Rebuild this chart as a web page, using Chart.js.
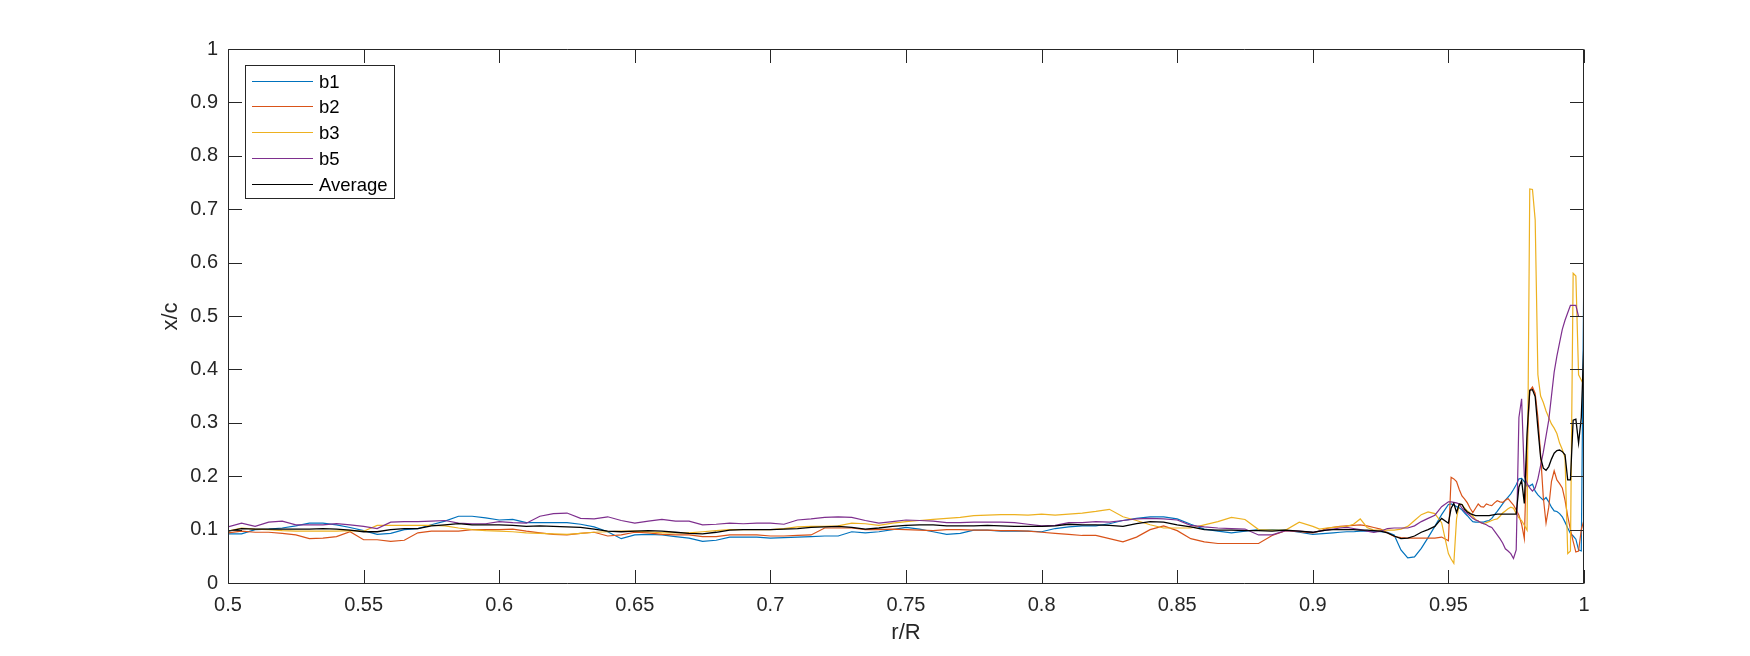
<!DOCTYPE html>
<html>
<head>
<meta charset="utf-8">
<script src="https://cdn.jsdelivr.net/npm/chart.js@4.4.1/dist/chart.umd.min.js"></script>
<style>
  html, body { margin: 0; padding: 0; background: #fff; overflow: hidden; }
</style>
</head>
<body>
<canvas id="chart" width="1750" height="656"></canvas>
<script>
// r/R positions (coarse on the flat part, finer towards the tip)
const rR = [
    0.5, 0.505, 0.51, 0.515, 0.52, 0.525, 0.53, 0.535, 0.54, 0.545,
    0.55, 0.555, 0.56, 0.565, 0.57, 0.575, 0.58, 0.585, 0.59, 0.595,
    0.6, 0.605, 0.61, 0.615, 0.62, 0.625, 0.63, 0.635, 0.64, 0.645,
    0.65, 0.655, 0.66, 0.665, 0.67, 0.675, 0.68, 0.685, 0.69, 0.695,
    0.7, 0.705, 0.71, 0.715, 0.72, 0.725, 0.73, 0.735, 0.74, 0.745,
    0.75, 0.755, 0.76, 0.765, 0.77, 0.775, 0.78, 0.785, 0.79, 0.795,
    0.8, 0.805, 0.81, 0.815, 0.82, 0.825, 0.83, 0.835, 0.84, 0.845,
    0.85, 0.855, 0.86, 0.865, 0.87, 0.875, 0.88, 0.885, 0.89, 0.895,
    0.9,
    0.9025, 0.905, 0.9075, 0.91, 0.9125, 0.915, 0.9175, 0.92, 0.9225, 0.925,
    0.9275, 0.93, 0.9325, 0.935, 0.9375, 0.94, 0.9425, 0.945, 0.9475, 0.95,
    0.951, 0.952, 0.953, 0.954, 0.955, 0.956, 0.957, 0.958, 0.959, 0.96,
    0.961, 0.962, 0.963, 0.964, 0.965, 0.966, 0.967, 0.968, 0.969, 0.97,
    0.971, 0.972, 0.973, 0.974, 0.975, 0.976, 0.977, 0.978, 0.979, 0.98,
    0.981, 0.982, 0.983, 0.984, 0.985, 0.986, 0.987, 0.988, 0.989, 0.99,
    0.991, 0.992, 0.993, 0.994, 0.995, 0.996, 0.997, 0.998, 0.999, 1.0
];

const b1 = [
    0.092, 0.092, 0.100, 0.101, 0.103, 0.107, 0.112, 0.112, 0.109, 0.104,
    0.098, 0.091, 0.093, 0.100, 0.102, 0.109, 0.116, 0.125, 0.125, 0.122,
    0.118, 0.119, 0.113, 0.113, 0.113, 0.113, 0.110, 0.105, 0.096, 0.083,
    0.090, 0.091, 0.090, 0.087, 0.084, 0.078, 0.080, 0.086, 0.086, 0.086,
    0.084, 0.085, 0.086, 0.087, 0.088, 0.088, 0.096, 0.094, 0.096, 0.100,
    0.104, 0.101, 0.096, 0.091, 0.093, 0.099, 0.099, 0.097, 0.097, 0.097,
    0.096, 0.102, 0.105, 0.107, 0.107, 0.111, 0.117, 0.121, 0.124, 0.124,
    0.120, 0.110, 0.101, 0.097, 0.094, 0.097, 0.100, 0.100, 0.099, 0.095,
    0.091,
    0.092, 0.093, 0.094, 0.095, 0.096, 0.096, 0.097, 0.097, 0.097, 0.096,
    0.095, 0.090, 0.062, 0.047, 0.049, 0.065, 0.085, 0.106, 0.128, 0.147,
    0.148, 0.146, 0.143, 0.141, 0.137, 0.131, 0.126, 0.120, 0.115, 0.114,
    0.114, 0.114, 0.114, 0.116, 0.117, 0.121, 0.128, 0.134, 0.141, 0.148,
    0.155, 0.161, 0.167, 0.175, 0.184, 0.195, 0.196, 0.190, 0.181, 0.182,
    0.185, 0.172, 0.165, 0.160, 0.155, 0.160, 0.152, 0.142, 0.135, 0.134,
    0.130, 0.124, 0.114, 0.103, 0.093, 0.088, 0.082, 0.062, 0.060, 0.617
];

const b2 = [
    0.094, 0.097, 0.095, 0.095, 0.093, 0.090, 0.083, 0.084, 0.087, 0.096,
    0.081, 0.081, 0.078, 0.080, 0.094, 0.097, 0.097, 0.097, 0.100, 0.100,
    0.100, 0.101, 0.097, 0.094, 0.091, 0.090, 0.093, 0.095, 0.088, 0.090,
    0.095, 0.094, 0.091, 0.090, 0.090, 0.087, 0.087, 0.090, 0.090, 0.090,
    0.088, 0.088, 0.089, 0.090, 0.103, 0.103, 0.103, 0.100, 0.100, 0.101,
    0.100, 0.099, 0.098, 0.100, 0.100, 0.099, 0.099, 0.098, 0.098, 0.097,
    0.095, 0.093, 0.091, 0.089, 0.089, 0.083, 0.077, 0.086, 0.100, 0.107,
    0.098, 0.083, 0.077, 0.074, 0.074, 0.074, 0.074, 0.089, 0.098, 0.096,
    0.094,
    0.097, 0.102, 0.104, 0.106, 0.107, 0.108, 0.109, 0.107, 0.104, 0.101,
    0.094, 0.087, 0.085, 0.084, 0.084, 0.084, 0.084, 0.084, 0.086, 0.079,
    0.198, 0.195, 0.190, 0.175, 0.163, 0.157, 0.150, 0.140, 0.132, 0.140,
    0.148, 0.143, 0.142, 0.148, 0.146, 0.145, 0.150, 0.154, 0.152, 0.151,
    0.155, 0.158, 0.152, 0.146, 0.137, 0.127, 0.110, 0.083, 0.260, 0.360,
    0.367, 0.355, 0.310, 0.240, 0.160, 0.112, 0.142, 0.190, 0.210, 0.193,
    0.186, 0.178, 0.155, 0.125, 0.100, 0.078, 0.058, 0.060, 0.100, 0.118
];

const b3 = [
    0.097, 0.103, 0.101, 0.100, 0.098, 0.097, 0.097, 0.097, 0.097, 0.098,
    0.097, 0.108, 0.108, 0.108, 0.108, 0.108, 0.107, 0.103, 0.100, 0.098,
    0.097, 0.096, 0.094, 0.093, 0.092, 0.091, 0.093, 0.095, 0.096, 0.097,
    0.097, 0.096, 0.094, 0.094, 0.094, 0.096, 0.098, 0.100, 0.100, 0.100,
    0.100, 0.102, 0.105, 0.106, 0.106, 0.107, 0.112, 0.111, 0.108, 0.112,
    0.115, 0.117, 0.119, 0.121, 0.123, 0.126, 0.127, 0.128, 0.128, 0.127,
    0.129, 0.127, 0.129, 0.131, 0.134, 0.138, 0.124, 0.117, 0.109, 0.103,
    0.103, 0.103, 0.109, 0.115, 0.123, 0.119, 0.100, 0.099, 0.099, 0.114,
    0.106,
    0.101, 0.103, 0.104, 0.105, 0.106, 0.110, 0.120, 0.104, 0.099, 0.099,
    0.099, 0.099, 0.101, 0.106, 0.117, 0.128, 0.133, 0.130, 0.113, 0.055,
    0.045, 0.037, 0.120, 0.148, 0.147, 0.140, 0.135, 0.131, 0.125, 0.119,
    0.116, 0.113, 0.111, 0.113, 0.115, 0.117, 0.119, 0.120, 0.125, 0.131,
    0.135, 0.139, 0.142, 0.140, 0.130, 0.122, 0.117, 0.108, 0.099, 0.738,
    0.737, 0.680, 0.390, 0.350, 0.338, 0.322, 0.310, 0.298, 0.290, 0.280,
    0.262, 0.250, 0.235, 0.055, 0.060, 0.580, 0.575, 0.390, 0.380, 0.370
];

const b5 = [
    0.105, 0.112, 0.106, 0.114, 0.116, 0.109, 0.109, 0.109, 0.111, 0.109,
    0.106, 0.102, 0.114, 0.115, 0.115, 0.116, 0.117, 0.112, 0.111, 0.111,
    0.115, 0.113, 0.112, 0.125, 0.130, 0.131, 0.121, 0.120, 0.124, 0.117,
    0.112, 0.116, 0.119, 0.116, 0.116, 0.109, 0.110, 0.112, 0.111, 0.112,
    0.112, 0.110, 0.118, 0.120, 0.123, 0.124, 0.123, 0.117, 0.112, 0.115,
    0.118, 0.117, 0.116, 0.113, 0.113, 0.114, 0.114, 0.114, 0.113, 0.110,
    0.107, 0.108, 0.113, 0.113, 0.115, 0.114, 0.117, 0.120, 0.121, 0.120,
    0.118, 0.108, 0.105, 0.103, 0.102, 0.101, 0.090, 0.090, 0.098, 0.097,
    0.095,
    0.097, 0.099, 0.101, 0.103, 0.104, 0.102, 0.100, 0.097, 0.095, 0.097,
    0.102, 0.103, 0.103, 0.103, 0.107, 0.115, 0.121, 0.127, 0.143, 0.152,
    0.152, 0.151, 0.150, 0.148, 0.140, 0.134, 0.130, 0.126, 0.121, 0.118,
    0.116, 0.113, 0.111, 0.109, 0.106, 0.104, 0.097, 0.090, 0.083, 0.075,
    0.064, 0.060, 0.055, 0.046, 0.062, 0.310, 0.345, 0.200, 0.186, 0.178,
    0.172, 0.178, 0.195, 0.220, 0.245, 0.275, 0.305, 0.350, 0.395, 0.425,
    0.450, 0.475, 0.492, 0.506, 0.520, 0.520, 0.520, 0.499, null, null
];

const average = [
    0.097, 0.102, 0.101, 0.101, 0.101, 0.101, 0.101, 0.102, 0.101, 0.099,
    0.096, 0.096, 0.100, 0.102, 0.102, 0.107, 0.109, 0.111, 0.109, 0.109,
    0.109, 0.108, 0.106, 0.107, 0.106, 0.105, 0.104, 0.101, 0.097, 0.096,
    0.097, 0.098, 0.097, 0.095, 0.093, 0.092, 0.095, 0.099, 0.100, 0.100,
    0.100, 0.101, 0.102, 0.104, 0.105, 0.106, 0.104, 0.101, 0.103, 0.106,
    0.108, 0.109, 0.109, 0.107, 0.107, 0.107, 0.108, 0.107, 0.106, 0.106,
    0.106, 0.107, 0.110, 0.109, 0.109, 0.108, 0.106, 0.111, 0.115, 0.114,
    0.109, 0.105, 0.100, 0.099, 0.099, 0.098, 0.098, 0.097, 0.099, 0.097,
    0.095,
    0.097, 0.099, 0.100, 0.100, 0.100, 0.100, 0.099, 0.099, 0.098, 0.097,
    0.094, 0.088, 0.083, 0.084, 0.088, 0.095, 0.100, 0.106, 0.121, 0.112,
    0.140, 0.149, 0.132, 0.148, 0.147, 0.138, 0.133, 0.130, 0.128, 0.126,
    0.126, 0.126, 0.126, 0.126, 0.126, 0.127, 0.128, 0.129, 0.129, 0.129,
    0.129, 0.129, 0.129, 0.129, 0.129, 0.180, 0.192, 0.149, 0.280, 0.361,
    0.362, 0.349, 0.290, 0.235, 0.215, 0.211, 0.218, 0.232, 0.243, 0.248,
    0.249, 0.246, 0.240, 0.193, 0.193, 0.305, 0.307, 0.262, 0.310, 0.455
];

const seriesNames = ['b1', 'b2', 'b3', 'b5', 'Average'];
const seriesColors = ['#0072BD', '#D95319', '#EDB120', '#7E2F8E', '#000000'];

const xTicks = [0.5, 0.55, 0.6, 0.65, 0.7, 0.75, 0.8, 0.85, 0.9, 0.95, 1];
const xTickLabels = ['0.5', '0.55', '0.6', '0.65', '0.7', '0.75', '0.8', '0.85', '0.9', '0.95', '1'];
const yTicks = [0, 0.1, 0.2, 0.3, 0.4, 0.5, 0.6, 0.7, 0.8, 0.9, 1];
const yTickLabels = ['0', '0.1', '0.2', '0.3', '0.4', '0.5', '0.6', '0.7', '0.8', '0.9', '1'];

const axisColor = '#262626';
const fontFamily = '"Liberation Sans", Arial, Helvetica, sans-serif';
const tickLen = 13.5;

// MATLAB-like box, inward ticks, axis titles and legend
const matlabAxes = {
    id: 'matlabAxes',
    afterDraw(chart) {
        const ctx = chart.ctx;
        const area = chart.chartArea;
        const xs = chart.scales.x;
        const ys = chart.scales.y;
        const L = Math.round(area.left) + 0.5;
        const R = Math.round(area.right) - 0.5;
        const T = Math.round(area.top) + 0.5;
        const B = Math.round(area.bottom) + 0.5;

        ctx.save();
        ctx.strokeStyle = axisColor;
        ctx.lineWidth = 1;
        ctx.beginPath();
        ctx.rect(L, T, R - L, B - T);
        xTicks.forEach(v => {
            const px = Math.round(xs.getPixelForValue(v)) + 0.5;
            ctx.moveTo(px, B); ctx.lineTo(px, B - tickLen);
            ctx.moveTo(px, T); ctx.lineTo(px, T + tickLen);
        });
        yTicks.forEach(v => {
            const py = Math.round(ys.getPixelForValue(v)) + 0.5;
            ctx.moveTo(L, py); ctx.lineTo(L + tickLen, py);
            ctx.moveTo(R, py); ctx.lineTo(R - tickLen, py);
        });
        ctx.stroke();

        // axis titles
        ctx.fillStyle = axisColor;
        ctx.font = '22px ' + fontFamily;
        ctx.textAlign = 'center';
        ctx.textBaseline = 'middle';
        ctx.fillText('r/R', (L + R) / 2, 633);
        ctx.save();
        ctx.translate(171, (T + B) / 2);
        ctx.rotate(-Math.PI / 2);
        ctx.fillText('x/c', 0, 0);
        ctx.restore();

        // legend box
        const lx = 245.5, ly = 65.5, lw = 149, lh = 133;
        ctx.fillStyle = '#ffffff';
        ctx.fillRect(lx, ly, lw, lh);
        ctx.strokeStyle = axisColor;
        ctx.strokeRect(lx, ly, lw, lh);
        ctx.font = '18.5px ' + fontFamily;
        ctx.textAlign = 'left';
        seriesNames.forEach((name, i) => {
            const y = Math.round(80.7 + i * 25.7) + 0.5;
            ctx.strokeStyle = seriesColors[i];
            ctx.lineWidth = 1.2;
            ctx.beginPath();
            ctx.moveTo(252, y);
            ctx.lineTo(313, y);
            ctx.stroke();
            ctx.fillStyle = '#000000';
            ctx.fillText(name, 319, y + 1);
        });
        ctx.restore();
    }
};

const allSeries = [b1, b2, b3, b5, average];
const datasets = allSeries.map((vals, i) => ({
    label: seriesNames[i],
    data: rR.map((r, j) => ({ x: r, y: vals[j] })),
    borderColor: seriesColors[i],
    borderWidth: i === 4 ? 1.3 : 1.2,
    pointRadius: 0,
    fill: false,
    tension: 0,
    spanGaps: false,
    order: 5 - i
}));

const ctx = document.getElementById('chart').getContext('2d');
const chart = new Chart(ctx, {
    type: 'line',
    data: { datasets: datasets },
    plugins: [matlabAxes],
    options: {
        responsive: false,
        animation: false,
        devicePixelRatio: 1,
        layout: { padding: { left: 0, right: 166, top: 49, bottom: 0 } },
        plugins: {
            legend: { display: false },
            tooltip: { enabled: false }
        },
        scales: {
            x: {
                type: 'linear',
                min: 0.5,
                max: 1,
                afterFit: s => { s.height = 73; },
                afterBuildTicks: s => { s.ticks = xTicks.map(v => ({ value: v })); },
                grid: { display: false, drawTicks: false },
                border: { display: false },
                ticks: {
                    padding: 10,
                    color: axisColor,
                    font: { family: fontFamily, size: 20 },
                    maxRotation: 0,
                    autoSkip: false,
                    callback: (v, i) => xTickLabels[i]
                }
            },
            y: {
                type: 'linear',
                min: 0,
                max: 1,
                afterFit: s => { s.width = 228; },
                afterBuildTicks: s => { s.ticks = yTicks.map(v => ({ value: v })); },
                grid: { display: false, drawTicks: false },
                border: { display: false },
                ticks: {
                    padding: 10,
                    color: axisColor,
                    font: { family: fontFamily, size: 20 },
                    autoSkip: false,
                    callback: (v, i) => yTickLabels[i]
                }
            }
        }
    }
});
</script>
</body>
</html>
